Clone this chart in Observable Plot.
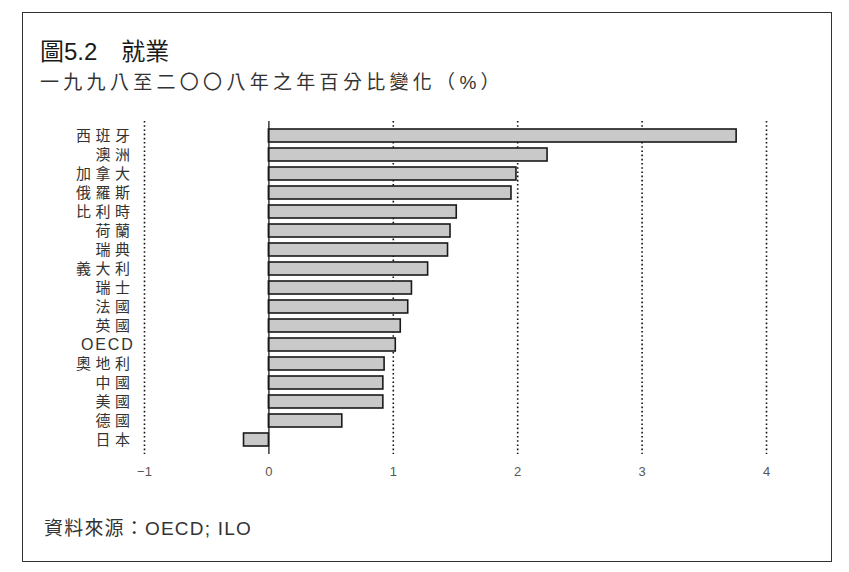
<!DOCTYPE html>
<html>
<head>
<meta charset="utf-8">
<script src="https://cdn.jsdelivr.net/npm/d3@7"></script>
<script src="https://cdn.jsdelivr.net/npm/@observablehq/plot@0.6"></script>
<style>
  html, body { margin: 0; padding: 0; background: #fff; }
  body { width: 849px; height: 572px; position: relative; overflow: hidden;
         font-family: "Liberation Sans", "Noto Sans CJK TC", sans-serif; color: #222; }
  #frame { position: absolute; left: 22px; top: 12px; width: 808px; height: 548px;
           border: 1.5px solid #333; box-sizing: content-box; }
  #title { position: absolute; left: 40px; top: 40px; font-size: 24px; line-height: 1;
           font-family: "Liberation Sans", "Noto Sans CJK TC", sans-serif; color: #1a1a1a; white-space: pre; }
  #subtitle { position: absolute; left: 40px; top: 73px; font-size: 19px; line-height: 1;
              letter-spacing: 4.3px; font-family: "Liberation Sans", "Noto Sans CJK TC", sans-serif; color: #333; white-space: pre; }
  #caption { position: absolute; left: 44px; top: 519px; font-size: 19px; line-height: 1;
             letter-spacing: 1.2px; font-family: "Liberation Sans", "Noto Sans CJK TC", sans-serif; color: #333; white-space: pre; }
  #chart { position: absolute; left: 0; top: 0; }
  #chart svg { overflow: visible; }
</style>
</head>
<body>
<div id="frame"></div>
<div id="title">圖5.2　就業</div>
<div id="subtitle">一九九八至二〇〇八年之年百分比變化（%）</div>
<div id="caption">資料來源：OECD; ILO</div>
<div id="chart"></div>
<script>
const countries = ["西班牙","澳洲","加拿大","俄羅斯","比利時","荷蘭","瑞典","義大利","瑞士","法國","英國","OECD","奧地利","中國","美國","德國","日本"];
const values = [3.76, 2.24, 1.99, 1.95, 1.51, 1.46, 1.44, 1.28, 1.15, 1.12, 1.06, 1.02, 0.93, 0.92, 0.92, 0.59, -0.20];
const xTicks = [-1, 0, 1, 2, 3, 4];
const gridTicks = [-1, 1, 2, 3, 4];

const data = countries.map((c, i) => ({country: c, value: values[i]}));

const chart = Plot.plot({
  width: 849,
  height: 495,
  marginLeft: 144,
  marginRight: 83,
  marginTop: 121,
  marginBottom: 41,
  style: {fontFamily: "'Liberation Sans', 'Noto Sans CJK TC', sans-serif", background: "transparent", overflow: "visible"},
  x: {domain: [-1, 4], label: null},
  y: {domain: countries, padding: 0.33, label: null},
  marks: [
    Plot.ruleX(gridTicks, {stroke: "#111", strokeWidth: 1.6, strokeDasharray: "1.6,2.6"}),
    Plot.barX(data, {x: "value", y: "country", fill: "#c9c9c9", stroke: "#1a1a1a", strokeWidth: 1.6}),
    Plot.ruleX([0], {stroke: "#1a1a1a", strokeWidth: 1.3}),
    Plot.axisX(xTicks, {tickSize: 0, tickPadding: 12, fontSize: 13, fill: "#555", tickFormat: d3.format("d"), label: null}),
    Plot.axisY({tickSize: 0, tickPadding: 10, fontSize: 15, fill: "#333", label: null}),
  ]
});
chart.querySelectorAll("text").forEach(t => {
  const s = t.textContent;
  if (countries.includes(s)) {
    if (/[A-Z]/.test(s)) { t.setAttribute("font-size", "16"); t.setAttribute("letter-spacing", "1.8"); }
    else t.setAttribute("letter-spacing", "4.5");
  }
});
document.getElementById("chart").appendChild(chart);
</script>
</body>
</html>
